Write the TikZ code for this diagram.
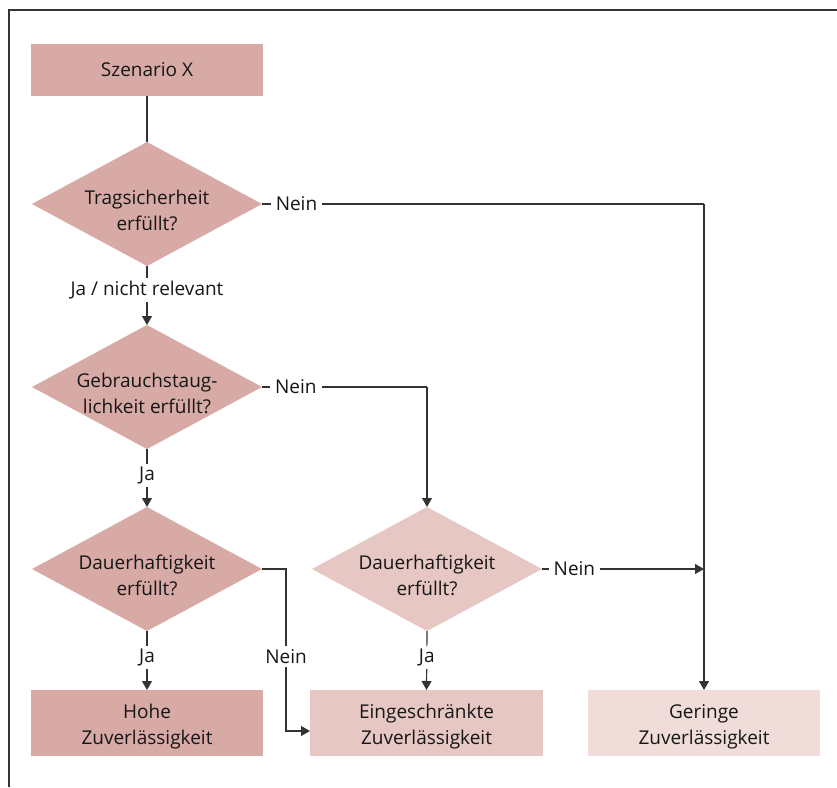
\documentclass[tikz,border=0pt]{standalone}
\usepackage{fontspec}
\setmainfont{Open Sans}
\usetikzlibrary{shapes.geometric,arrows.meta}
\definecolor{cdark}{HTML}{D7AAA6}
\definecolor{cmid}{HTML}{E6C7C3}
\definecolor{clight}{HTML}{F0DDDA}
\definecolor{cline}{HTML}{333333}
\definecolor{ctext}{HTML}{161616}
\begin{document}
\begin{tikzpicture}[x=1pt,y=-1pt,
  every node/.style={font=\fontsize{19}{26}\selectfont, text=ctext},
  box/.style={rectangle, draw=none, minimum width=232pt, minimum height=66pt, inner sep=0pt, outer sep=0pt, align=center},
  dia/.style={diamond, draw=none, minimum width=230pt, minimum height=124pt, inner sep=0pt, outer sep=0pt},
  dtext/.style={align=center, inner sep=0pt},
  conn/.style={draw=cline, line width=1.2pt},
  arr/.style={conn, -{Triangle[length=9pt,width=10pt]}},
  lbl/.style={fill=white, inner xsep=5pt, inner ysep=3pt}
]
\useasboundingbox (0,0) rectangle (837,787);
% frame
\draw[cline, line width=1.2pt] (9,787) -- (9,10) -- (837,10);

% nodes
\node[box, fill=cdark, minimum height=52pt] (sz) at (147,70) {Szenario X};
\node[dia, fill=cdark] (d1) at (147,204) {};
\node[dtext, yshift=-6pt] (t1) at (d1) {Tragsicherheit\\erfüllt?};
\node[dia, fill=cdark] (d2) at (147,387) {};
\node[dtext, yshift=-6pt] (t2) at (d2) {Gebrauchstaug-\\lichkeit erfüllt?};
\node[dia, fill=cdark] (d3) at (147,569) {};
\node[dtext, yshift=-6pt] (t3) at (d3) {Dauerhaftigkeit\\erfüllt?};
\node[dia, fill=cmid] (d4) at (427,569) {};
\node[dtext, yshift=-6pt] (t4) at (d4) {Dauerhaftigkeit\\erfüllt?};
\node[box, fill=cdark] (hohe) at (147,723) {};
\node[dtext, yshift=-4pt] (t5) at (hohe) {Hohe\\Zuverlässigkeit};
\node[box, fill=cmid, minimum width=233pt] (ein) at (426.5,723) {};
\node[dtext, yshift=-4pt] (t6) at (ein) {Eingeschränkte\\Zuverlässigkeit};
\node[box, fill=clight] (ger) at (704,723) {};
\node[dtext, yshift=-4pt] (t7) at (ger) {Geringe\\Zuverlässigkeit};

\coordinate (k1) at (286,569);
\coordinate (k2) at (286,731);

% connectors
\draw[conn] (sz.south) -- (d1.north);
\draw[conn] (d1.east) -- node[lbl, pos=0.078]{Nein} (d1.east -| ger.north);
\draw[arr] (d1.east -| ger.north) -- (ger.north);
\draw[arr] (d1.south) -- node[lbl, pos=0.41]{Ja / nicht relevant} (d2.north);
\draw[conn] (d2.east) -- node[lbl, pos=0.205]{Nein} (d2.east -| d4.north);
\draw[arr] (d2.east -| d4.north) -- (d4.north);
\draw[arr] (d2.south) -- node[lbl, pos=0.45]{Ja} (d3.north);
\draw[arr] (d3.east) -- (k1) -- node[lbl, pos=0.54]{Nein} (k2) -- (k2 -| ein.west);
\draw[arr] (d3.south) -- node[lbl, pos=0.45]{Ja} (hohe.north);
\draw[arr] (d4.south) -- node[lbl, pos=0.45]{Ja} (ein.north);
\draw[arr] (d4.east) -- node[lbl, pos=0.2]{Nein} (d4.east -| ger.north);
\end{tikzpicture}
\end{document}
